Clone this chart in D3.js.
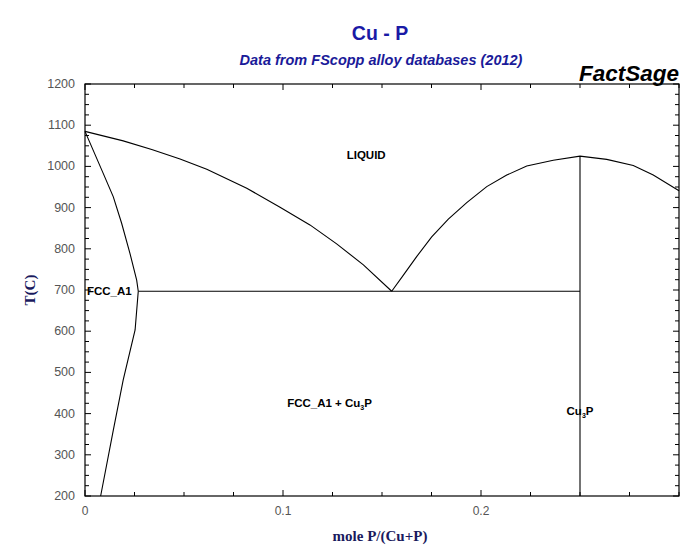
<!DOCTYPE html>
<html>
<head>
<meta charset="utf-8">
<script src="https://cdn.jsdelivr.net/npm/d3@7"></script>
<style>
  body { margin: 0; background: #fff; }
  text { font-family: "Liberation Sans", Arial, sans-serif; }
</style>
</head>
<body>
<script>
// Chart size
var svgWidth = 700;
var svgHeight = 551;

// Plot box
var margin = { top: 84, right: 21, bottom: 55, left: 85 };
var chartWidth = svgWidth - margin.left - margin.right;
var chartHeight = svgHeight - margin.top - margin.bottom;

// Phase boundary data: [mole P/(Cu+P), T(C)]
var liquidusCu = [
  [0, 1085], [0.0193, 1062], [0.0337, 1041], [0.048, 1018], [0.0615, 993],
  [0.0817, 947], [0.0985, 901], [0.1136, 858], [0.1271, 812], [0.1406, 761],
  [0.1549, 697]
];
var solidusCu = [
  [0, 1085], [0.0092, 983], [0.0143, 926], [0.0185, 862], [0.0227, 789],
  [0.0261, 724], [0.0269, 697]
];
var solvusCu = [
  [0.0269, 697], [0.0253, 603], [0.0193, 482], [0.0143, 360], [0.0079, 200]
];
var liquidusCu3P = [
  [0.1549, 697], [0.1608, 736], [0.1675, 781], [0.1751, 829], [0.1835, 872],
  [0.1928, 912], [0.2029, 951], [0.213, 979], [0.2231, 1001], [0.2365, 1015],
  [0.25, 1025], [0.2635, 1017], [0.2769, 1002], [0.287, 979], [0.3, 941]
];
var eutecticLine = [[0.0269, 697], [0.25, 697]];
var cu3pLine = [[0.25, 1025], [0.25, 200]];

// Axis ticks
var xMajorTicks = [0, 0.1, 0.2];
var xTickLabels = ["0", "0.1", "0.2"];
var yMajorTicks = [200, 300, 400, 500, 600, 700, 800, 900, 1000, 1100, 1200];

var xScale = d3.scaleLinear().domain([0, 0.3]).range([0, chartWidth]);
var yScale = d3.scaleLinear().domain([200, 1200]).range([chartHeight, 0]);

var svg = d3.select("body").append("svg")
  .attr("width", svgWidth)
  .attr("height", svgHeight);

// Titles
svg.append("text")
  .attr("x", 380).attr("y", 40)
  .attr("text-anchor", "middle")
  .attr("font-size", 19.5).attr("font-weight", "bold")
  .attr("fill", "#1a1aa6")
  .text("Cu - P");

svg.append("text")
  .attr("x", 381).attr("y", 65)
  .attr("text-anchor", "middle")
  .attr("font-size", 14.5).attr("font-weight", "bold").attr("font-style", "italic")
  .attr("fill", "#1a1a99")
  .text("Data from FScopp alloy databases (2012)");

svg.append("text")
  .attr("x", 679).attr("y", 81)
  .attr("text-anchor", "end")
  .attr("font-size", 22.5).attr("font-weight", "bold").attr("font-style", "italic")
  .attr("fill", "#000")
  .text("FactSage");

var chartGroup = svg.append("g")
  .attr("transform", "translate(" + margin.left + ", " + margin.top + ")");

// Frame
chartGroup.append("rect")
  .attr("width", chartWidth).attr("height", chartHeight)
  .attr("fill", "none").attr("stroke", "#000").attr("stroke-width", 1.2);

// Inward ticks on all four sides
var xMinor = d3.range(0, 0.3001, 0.025);
var yMinor = d3.range(200, 1200.1, 25);

var tickGroup = chartGroup.append("g").attr("stroke", "#000").attr("stroke-width", 1);
xMinor.forEach(function (v) {
  var len = xMajorTicks.some(function (m) { return Math.abs(m - v) < 1e-6; }) ? 6 : 4;
  tickGroup.append("line").attr("x1", xScale(v)).attr("x2", xScale(v))
    .attr("y1", chartHeight).attr("y2", chartHeight - len);
  tickGroup.append("line").attr("x1", xScale(v)).attr("x2", xScale(v))
    .attr("y1", 0).attr("y2", len);
});
yMinor.forEach(function (v) {
  var len = v % 100 === 0 ? 6 : 4;
  tickGroup.append("line").attr("y1", yScale(v)).attr("y2", yScale(v))
    .attr("x1", 0).attr("x2", len);
  tickGroup.append("line").attr("y1", yScale(v)).attr("y2", yScale(v))
    .attr("x1", chartWidth).attr("x2", chartWidth - len);
});

// Tick labels
chartGroup.selectAll(".xlab").data(xMajorTicks).enter().append("text")
  .attr("x", function (d) { return xScale(d); })
  .attr("y", chartHeight + 19)
  .attr("text-anchor", "middle")
  .attr("font-size", 12).attr("fill", "#555")
  .text(function (d, i) { return xTickLabels[i]; });

chartGroup.selectAll(".ylab").data(yMajorTicks).enter().append("text")
  .attr("x", -10)
  .attr("y", function (d) { return yScale(d) + 4; })
  .attr("text-anchor", "end")
  .attr("font-size", 12.5).attr("fill", "#555")
  .text(function (d) { return d; });

// Axis titles
svg.append("text")
  .attr("transform", "translate(35, 290) rotate(-90)")
  .attr("text-anchor", "middle")
  .attr("font-size", 15).attr("font-weight", "bold")
  .attr("fill", "#1a1a5e")
  .style("font-family", "'Liberation Serif', serif")
  .text("T(C)");

svg.append("text")
  .attr("x", 380).attr("y", 541)
  .attr("text-anchor", "middle")
  .attr("font-size", 15).attr("font-weight", "bold")
  .attr("fill", "#1a1a5e")
  .style("font-family", "'Liberation Serif', serif")
  .text("mole P/(Cu+P)");

// Phase boundaries
var drawLine = d3.line()
  .x(function (d) { return xScale(d[0]); })
  .y(function (d) { return yScale(d[1]); });

[liquidusCu, solidusCu, solvusCu, liquidusCu3P, eutecticLine, cu3pLine].forEach(function (data) {
  chartGroup.append("path")
    .attr("d", drawLine(data))
    .attr("fill", "none")
    .attr("stroke", "#000")
    .attr("stroke-width", 1.1);
});

// Phase labels
function phaseLabel(x, y, anchor, parts) {
  var t = chartGroup.append("text")
    .attr("x", xScale(x)).attr("y", yScale(y))
    .attr("text-anchor", anchor)
    .attr("font-size", 11.5).attr("font-weight", "bold").attr("fill", "#000");
  parts.forEach(function (p) {
    var s = t.append("tspan").text(p[0]);
    if (p[1]) s.attr("font-size", 7).attr("dy", 3);
    else if (p[2]) s.attr("dy", -3);
  });
}

phaseLabel(0.142, 1017, "middle", [["LIQUID"]]);
phaseLabel(0.001, 688, "start", [["FCC_A1"]]);
phaseLabel(0.1235, 415, "middle", [["FCC_A1 + Cu"], ["3", true], ["P", false, true]]);
phaseLabel(0.25, 397, "middle", [["Cu"], ["3", true], ["P", false, true]]);
</script>
</body>
</html>
